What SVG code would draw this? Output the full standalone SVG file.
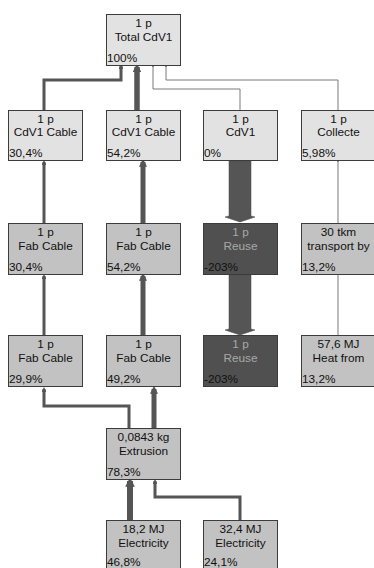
<svg xmlns="http://www.w3.org/2000/svg" width="374" height="568" viewBox="0 0 374 568">
  <style>
    .box rect { stroke: #3c3c3c; stroke-width: 1; }
    .light rect { fill: #e2e2e2; }
    .mid rect { fill: #c2c2c2; }
    .dark rect { fill: #505050; }
    text { font-family: "Liberation Sans", Arial, sans-serif; font-size: 11.8px; fill: #111; }
    .c { text-anchor: middle; }
    .dark .c { fill: #a8a8a8; }
    .link { fill: none; stroke: #555; stroke-linejoin: miter; marker-end: url(#tip); }
    .thin { stroke: #7a7a7a; }
    .block { fill: #555; stroke: #444; stroke-width: 0.5; }
  </style>
  <defs>
    <marker id="tip" viewBox="0 0 10 10" refX="6" refY="5" markerWidth="1.6" markerHeight="1.6" orient="auto" markerUnits="strokeWidth">
      <path d="M0,0 L10,5 L0,10 Z" fill="#555"/>
    </marker>
  </defs>

  <!-- connectors -->
  <g id="connectors">
    <path class="link" d="M44,110 V80 H121 V66" stroke-width="3"/>
    <path class="link" d="M137,110 V67" stroke-width="5.5"/>
    <path class="link thin" d="M240,110 V89 H153 V66" stroke-width="1"/>
    <path class="link thin" d="M338,110 V80 H166 V66" stroke-width="1"/>

    <path class="link" d="M44,223 V162" stroke-width="3"/>
    <path class="link" d="M143,223 V162" stroke-width="5"/>
    <path class="block" d="M229,161 H251 V216 L255,217 L240,222 L225,217 L229,216 Z"/>
    <path class="link thin" d="M338,223 V161" stroke-width="1"/>

    <path class="link" d="M44,335 V276" stroke-width="3"/>
    <path class="link" d="M143,335 V276" stroke-width="5"/>
    <path class="block" d="M229,275 H251 V329 L255,330 L240,335 L225,330 L229,329 Z"/>
    <path class="link thin" d="M338,335 V274" stroke-width="1"/>

    <path class="link" d="M129,428 V406 H44 V389" stroke-width="3"/>
    <path class="link" d="M154,428 V389" stroke-width="5"/>

    <path class="link" d="M130,520 V481" stroke-width="6"/>
    <path class="link" d="M240,520 V497 H155 V481" stroke-width="3"/>
  </g>

  <!-- nodes -->
  <g id="n-total" class="box light">
    <rect x="106.5" y="14.5" width="74" height="51"/>
    <text class="c" x="143.5" y="27">1 p</text>
    <text class="c" x="143.5" y="40.5">Total CdV1</text>
    <text x="107" y="62">100%</text>
  </g>

  <g id="n-cable-a" class="box light">
    <rect x="8.5" y="110.5" width="74" height="50"/>
    <text class="c" x="45.5" y="122.5">1 p</text>
    <text class="c" x="45.5" y="136">CdV1 Cable</text>
    <text x="9" y="157">30,4%</text>
  </g>
  <g id="n-cable-b" class="box light">
    <rect x="106.5" y="110.5" width="74" height="50"/>
    <text class="c" x="143.5" y="122.5">1 p</text>
    <text class="c" x="143.5" y="136">CdV1 Cable</text>
    <text x="107" y="157">54,2%</text>
  </g>
  <g id="n-cdv1" class="box light">
    <rect x="203.5" y="110.5" width="74" height="50"/>
    <text class="c" x="240.5" y="122.5">1 p</text>
    <text class="c" x="240.5" y="136">CdV1</text>
    <text x="204" y="157">0%</text>
  </g>
  <g id="n-collecte" class="box light">
    <rect x="301.5" y="110.5" width="74" height="50"/>
    <text class="c" x="338.5" y="122.5">1 p</text>
    <text class="c" x="338.5" y="136">Collecte</text>
    <text x="302" y="157">5,98%</text>
  </g>

  <g id="n-fab-a1" class="box mid">
    <rect x="8.5" y="223.5" width="74" height="51"/>
    <text class="c" x="45.5" y="236">1 p</text>
    <text class="c" x="45.5" y="249.5">Fab Cable</text>
    <text x="9" y="271">30,4%</text>
  </g>
  <g id="n-fab-b1" class="box mid">
    <rect x="106.5" y="223.5" width="74" height="51"/>
    <text class="c" x="143.5" y="236">1 p</text>
    <text class="c" x="143.5" y="249.5">Fab Cable</text>
    <text x="107" y="271">54,2%</text>
  </g>
  <g id="n-reuse-1" class="box dark">
    <rect x="203.5" y="223.5" width="74" height="51"/>
    <text class="c" x="240.5" y="236">1 p</text>
    <text class="c" x="240.5" y="249.5">Reuse</text>
    <text x="204" y="271">-203%</text>
  </g>
  <g id="n-transport" class="box mid">
    <rect x="301.5" y="223.5" width="74" height="51"/>
    <text class="c" x="338.5" y="236">30 tkm</text>
    <text class="c" x="338.5" y="249.5">transport by</text>
    <text x="302" y="271">13,2%</text>
  </g>

  <g id="n-fab-a2" class="box mid">
    <rect x="8.5" y="335.5" width="74" height="51"/>
    <text class="c" x="45.5" y="348">1 p</text>
    <text class="c" x="45.5" y="361.5">Fab Cable</text>
    <text x="9" y="383">29,9%</text>
  </g>
  <g id="n-fab-b2" class="box mid">
    <rect x="106.5" y="335.5" width="74" height="51"/>
    <text class="c" x="143.5" y="348">1 p</text>
    <text class="c" x="143.5" y="361.5">Fab Cable</text>
    <text x="107" y="383">49,2%</text>
  </g>
  <g id="n-reuse-2" class="box dark">
    <rect x="203.5" y="335.5" width="74" height="51"/>
    <text class="c" x="240.5" y="348">1 p</text>
    <text class="c" x="240.5" y="361.5">Reuse</text>
    <text x="204" y="383">-203%</text>
  </g>
  <g id="n-heat" class="box mid">
    <rect x="301.5" y="335.5" width="74" height="51"/>
    <text class="c" x="338.5" y="348">57,6 MJ</text>
    <text class="c" x="338.5" y="361.5">Heat from</text>
    <text x="302" y="383">13,2%</text>
  </g>

  <g id="n-extrusion" class="box mid">
    <rect x="106.5" y="428.5" width="74" height="51"/>
    <text class="c" x="143.5" y="441">0,0843 kg</text>
    <text class="c" x="143.5" y="454.5">Extrusion</text>
    <text x="107" y="476">78,3%</text>
  </g>

  <g id="n-elec-a" class="box mid">
    <rect x="106.5" y="520.5" width="74" height="51"/>
    <text class="c" x="143.5" y="533">18,2 MJ</text>
    <text class="c" x="143.5" y="546.5">Electricity</text>
    <text x="107" y="565.5">46,8%</text>
  </g>
  <g id="n-elec-b" class="box mid">
    <rect x="203.5" y="520.5" width="74" height="51"/>
    <text class="c" x="240.5" y="533">32,4 MJ</text>
    <text class="c" x="240.5" y="546.5">Electricity</text>
    <text x="204" y="565.5">24,1%</text>
  </g>
</svg>
